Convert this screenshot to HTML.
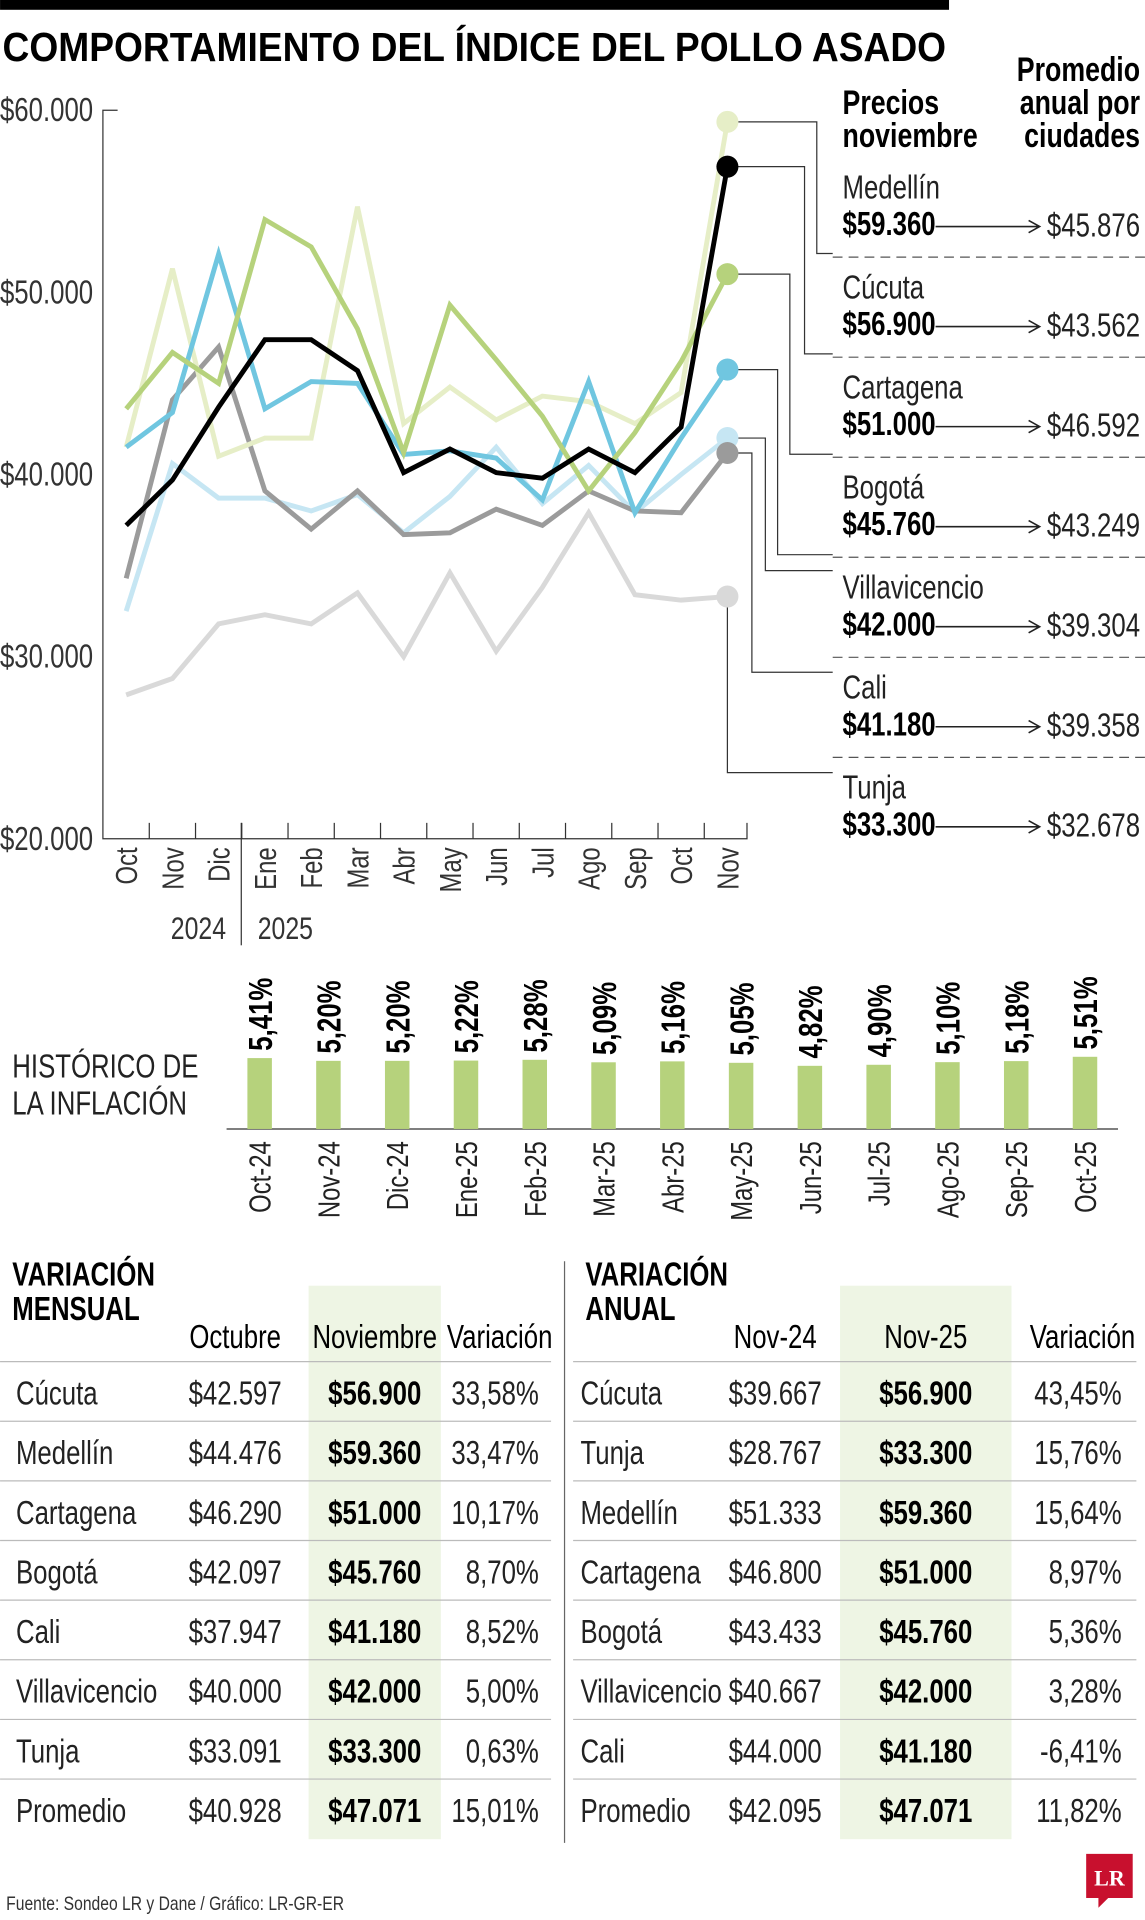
<!DOCTYPE html>
<html><head><meta charset="utf-8"><style>
html,body{margin:0;padding:0;background:#fff;}
svg{display:block;font-family:"Liberation Sans",sans-serif;}
.b{font-weight:bold}
</style></head><body>
<svg id="svg" width="1145" height="1920" viewBox="0 0 935 1568" xmlns="http://www.w3.org/2000/svg">
<rect x="0" y="0" width="775" height="8" fill="#000"/>
<text transform="translate(2,50) scale(0.92,1)" font-size="33" class="b">COMPORTAMIENTO DEL ÍNDICE DEL POLLO ASADO</text>
<g id="chart"></g>
<g id="legend"></g>
<g id="bars"></g>
<g id="tables"></g>
<text transform="translate(5,1560) scale(0.8,1)" font-size="16" fill="#333">Fuente: Sondeo LR y Dane / Gráfico: LR-GR-ER</text>
<g><path d="M887 1514h38v36h-20l-8 8v-8h-10z" fill="#c8102e"/><text x="906" y="1540" font-size="18" class="b" fill="#fff" text-anchor="middle" font-family="Liberation Serif,serif">LR</text></g>
</svg>
<script>
const months=["Oct","Nov","Dic","Ene","Feb","Mar","Abr","May","Jun","Jul","Ago","Sep","Oct","Nov"];
const yTicks=[20000,30000,40000,50000,60000];
const yTickLabels=["$20.000","$30.000","$40.000","$50.000","$60.000"];
const cities=["Medellín","Cúcuta","Cartagena","Bogotá","Villavicencio","Cali","Tunja"];
const medellin=[41.5,51.3,41,42,42,54.7,42.8,44.8,43,44.3,44,42.8,44.5,59.36];
const cucuta=[37.2,39.7,43.7,47.4,47.4,45.7,40.1,41.4,40.1,39.8,41.4,40.1,42.6,56.9];
const cartagena=[43.6,46.7,45,54,52.5,48,41.2,49.3,46.3,43.2,39.1,42.3,46.2,51];
const bogota=[41.5,43.4,52.1,43.6,45.1,45,41.1,41.3,40.9,38.6,45.1,37.9,42,45.76];
const villavicencio=[32.5,40.6,38.7,38.7,38,38.9,36.8,38.8,41.5,38.4,40.5,37.9,40,42];
const cali=[34.3,44.1,47,39.1,37,39.1,36.7,36.8,38.1,37.2,39.1,38,37.9,41.18];
const tunja=[27.9,28.8,31.8,32.3,31.8,33.5,30,34.6,30.3,33.8,37.9,33.4,33.1,33.3];
const novPrices=["$59.360","$56.900","$51.000","$45.760","$42.000","$41.180","$33.300"];
const annualAvg=["$45.876","$43.562","$46.592","$43.249","$39.304","$39.358","$32.678"];
const inflLabels=["Oct-24","Nov-24","Dic-24","Ene-25","Feb-25","Mar-25","Abr-25","May-25","Jun-25","Jul-25","Ago-25","Sep-25","Oct-25"];
const inflValues=[5.41,5.20,5.20,5.22,5.28,5.09,5.16,5.05,4.82,4.90,5.10,5.18,5.51];
const monthlyRows=[["Cúcuta","$42.597","$56.900","33,58%"],["Medellín","$44.476","$59.360","33,47%"],["Cartagena","$46.290","$51.000","10,17%"],["Bogotá","$42.097","$45.760","8,70%"],["Cali","$37.947","$41.180","8,52%"],["Villavicencio","$40.000","$42.000","5,00%"],["Tunja","$33.091","$33.300","0,63%"],["Promedio","$40.928","$47.071","15,01%"]];
const annualRows=[["Cúcuta","$39.667","$56.900","43,45%"],["Tunja","$28.767","$33.300","15,76%"],["Medellín","$51.333","$59.360","15,64%"],["Cartagena","$46.800","$51.000","8,97%"],["Bogotá","$43.433","$45.760","5,36%"],["Villavicencio","$40.667","$42.000","3,28%"],["Cali","$44.000","$41.180","-6,41%"],["Promedio","$42.095","$47.071","11,82%"]];

const NS="http://www.w3.org/2000/svg";
const SX=0.78;
function mk(tag,attrs,parent,txt){const e=document.createElementNS(NS,tag);for(const k in attrs)e.setAttribute(k,attrs[k]);if(txt!==undefined)e.textContent=txt;parent.appendChild(e);return e;}
function T(parent,x,y,str,attrs,rot){const a=Object.assign({},attrs||{});a.transform=`translate(${x},${y})`+(rot?` rotate(${rot})`:'')+` scale(${SX},1)`;return mk('text',a,parent,str);}
const xS=i=>103+i*37.77;
const yS=v=>685-(v-20000)*595/40000;
const chart=document.getElementById('chart');
let ax=mk('path',{d:"M96 90H84V685H610V672",stroke:"#333",fill:"none","stroke-width":1},chart);


yTicks.forEach((t,i)=>{let e=T(chart,76,yS(t)+9,yTickLabels[i],{"font-size":27,"text-anchor":"end",fill:"#333"});

});
for(let i=0;i<months.length;i++){
 if(i>0){let tk=mk('line',{x1:xS(i)-18.9,x2:xS(i)-18.9,y1:672,y2:685,stroke:"#333"},chart);}
 let t=T(chart,xS(i)+9,692,months[i],{"font-size":25,"text-anchor":"end",fill:"#333"},-90);
 
 
}
mk('line',{x1:197,x2:197,y1:672,y2:772,stroke:"#333"},chart);
let y1=T(chart,162,767,"2024",{"font-size":26,"text-anchor":"middle",fill:"#333"});


let y2=T(chart,233,767,"2025",{"font-size":26,"text-anchor":"middle",fill:"#333"});


const series=[tunja,villavicencio,cali,medellin,bogota,cartagena,cucuta];
const cols=["#d9d9d9","#c6e6f3","#9b9b9b","#e6eec7","#70c6e0","#b6d27c","#000"];
const snames=["tunja","villavicencio","cali","medellin","bogota","cartagena","cucuta"];
const conn={medellin:[667,207],cucuta:[657,289],cartagena:[645,371],bogota:[635,453],villavicencio:[625,466],cali:[614,549],tunja:[594,631]};
series.forEach((s,k)=>{
 const last=s[s.length-1]*1000;
 const c=conn[snames[k]];
 let cl=mk('path',{d:`M${xS(13)} ${yS(last)}H${c[0]}V${c[1]}H680`,stroke:"#333",fill:"none","stroke-width":1},chart);
 
 
});
series.forEach((s,k)=>{
 const d=s.map((v,i)=>(i?'L':'M')+xS(i).toFixed(1)+' '+yS(v*1000).toFixed(1)).join('');
 let p=mk('path',{d,stroke:cols[k],fill:"none","stroke-width":4,"stroke-linejoin":"miter"},chart);
 
 
 let c=mk('circle',{cx:xS(13),cy:yS(s[13]*1000),r:9,fill:cols[k]},chart);
 
 
});
const lg=document.getElementById('legend');
[["Precios",93],["noviembre",120]].forEach(a=>T(lg,688,a[1],a[0],{"font-size":28,class:"b"}));
[["Promedio",66],["anual por",93],["ciudades",120]].forEach(a=>T(lg,931,a[1],a[0],{"font-size":28,class:"b","text-anchor":"end"}));
cities.forEach((c,i)=>{
 const y=162+i*81.7;
 let g=mk('g',{},lg);
 
 
 T(g,688,y,c,{"font-size":27,fill:"#222"});
 T(g,688,y+30,novPrices[i],{"font-size":27,class:"b"});
 mk('path',{d:`M764 ${y+23}H848M840 ${y+18}L849 ${y+23}L840 ${y+28}`,stroke:"#222",fill:"none","stroke-width":1.3},g);
 T(g,931,y+31,annualAvg[i],{"font-size":27,"text-anchor":"end",fill:"#222"});
 if(i<6)mk('line',{x1:680,x2:935,y1:y+48,y2:y+48,stroke:"#555","stroke-dasharray":"8 5"},g);
});
const bg=document.getElementById('bars');
T(bg,10,880,"HISTÓRICO DE",{"font-size":27,fill:"#222"});
T(bg,10,910,"LA INFLACIÓN",{"font-size":27,fill:"#222"});
mk('line',{x1:185,x2:913,y1:922,y2:922,stroke:"#333"},bg);
const bx=i=>212+i*56.17;
const bh=v=>v*10.7;
inflValues.forEach((v,i)=>{
 let r=mk('rect',{x:bx(i)-10,y:922-bh(v),width:20,height:bh(v),fill:"#b6d27c"},bg);
 
 
 let t=T(bg,bx(i)+10,922-bh(v)-6,v.toFixed(2).replace('.',',')+'%',{"font-size":27,class:"b"},-90);
 
 
 let m=T(bg,bx(i)+9,932,inflLabels[i],{"font-size":25,"text-anchor":"end",fill:"#222"},-90);
 
 
});
const tg=document.getElementById('tables');
function table(rows,opt){
 mk('rect',{x:opt.hx,y:1050,width:opt.hw,height:452,fill:"#eef5e4"},tg);
 T(tg,opt.tx,1050,"VARIACIÓN",{"font-size":27,class:"b"});
 T(tg,opt.tx,1078,opt.t2,{"font-size":27,class:"b"});
 opt.heads.forEach((h,j)=>T(tg,opt.cx[j],1101,h,{"font-size":27,"text-anchor":"middle"}));
 rows.forEach((r,i)=>{
  const y=1147+i*48.7;
  let g=mk('g',{},tg);
  
  
  mk('line',{x1:opt.lx,x2:opt.rx,y1:y-35,y2:y-35,stroke:"#bbb"},g);
  T(g,opt.nx,y,r[0],{"font-size":27,fill:"#222"});
  T(g,opt.cx[0],y,r[1],{"font-size":27,"text-anchor":"middle",fill:"#222"});
  T(g,opt.cx[1],y,r[2],{"font-size":27,class:"b","text-anchor":"middle"});
  T(g,opt.cx[2]+32,y,r[3],{"font-size":27,"text-anchor":"end",fill:"#222"});
 });
}
table(monthlyRows,{hx:252,hw:108,tx:10,t2:"MENSUAL",heads:["Octubre","Noviembre","Variación"],cx:[192,306,408],lx:0,rx:450,nx:13});
table(annualRows,{hx:686,hw:140,tx:478,t2:"ANUAL",heads:["Nov-24","Nov-25","Variación"],cx:[633,756,884],lx:468,rx:928,nx:474});
mk('line',{x1:461,x2:461,y1:1030,y2:1505,stroke:"#666"},tg);
</script>
</body></html>
